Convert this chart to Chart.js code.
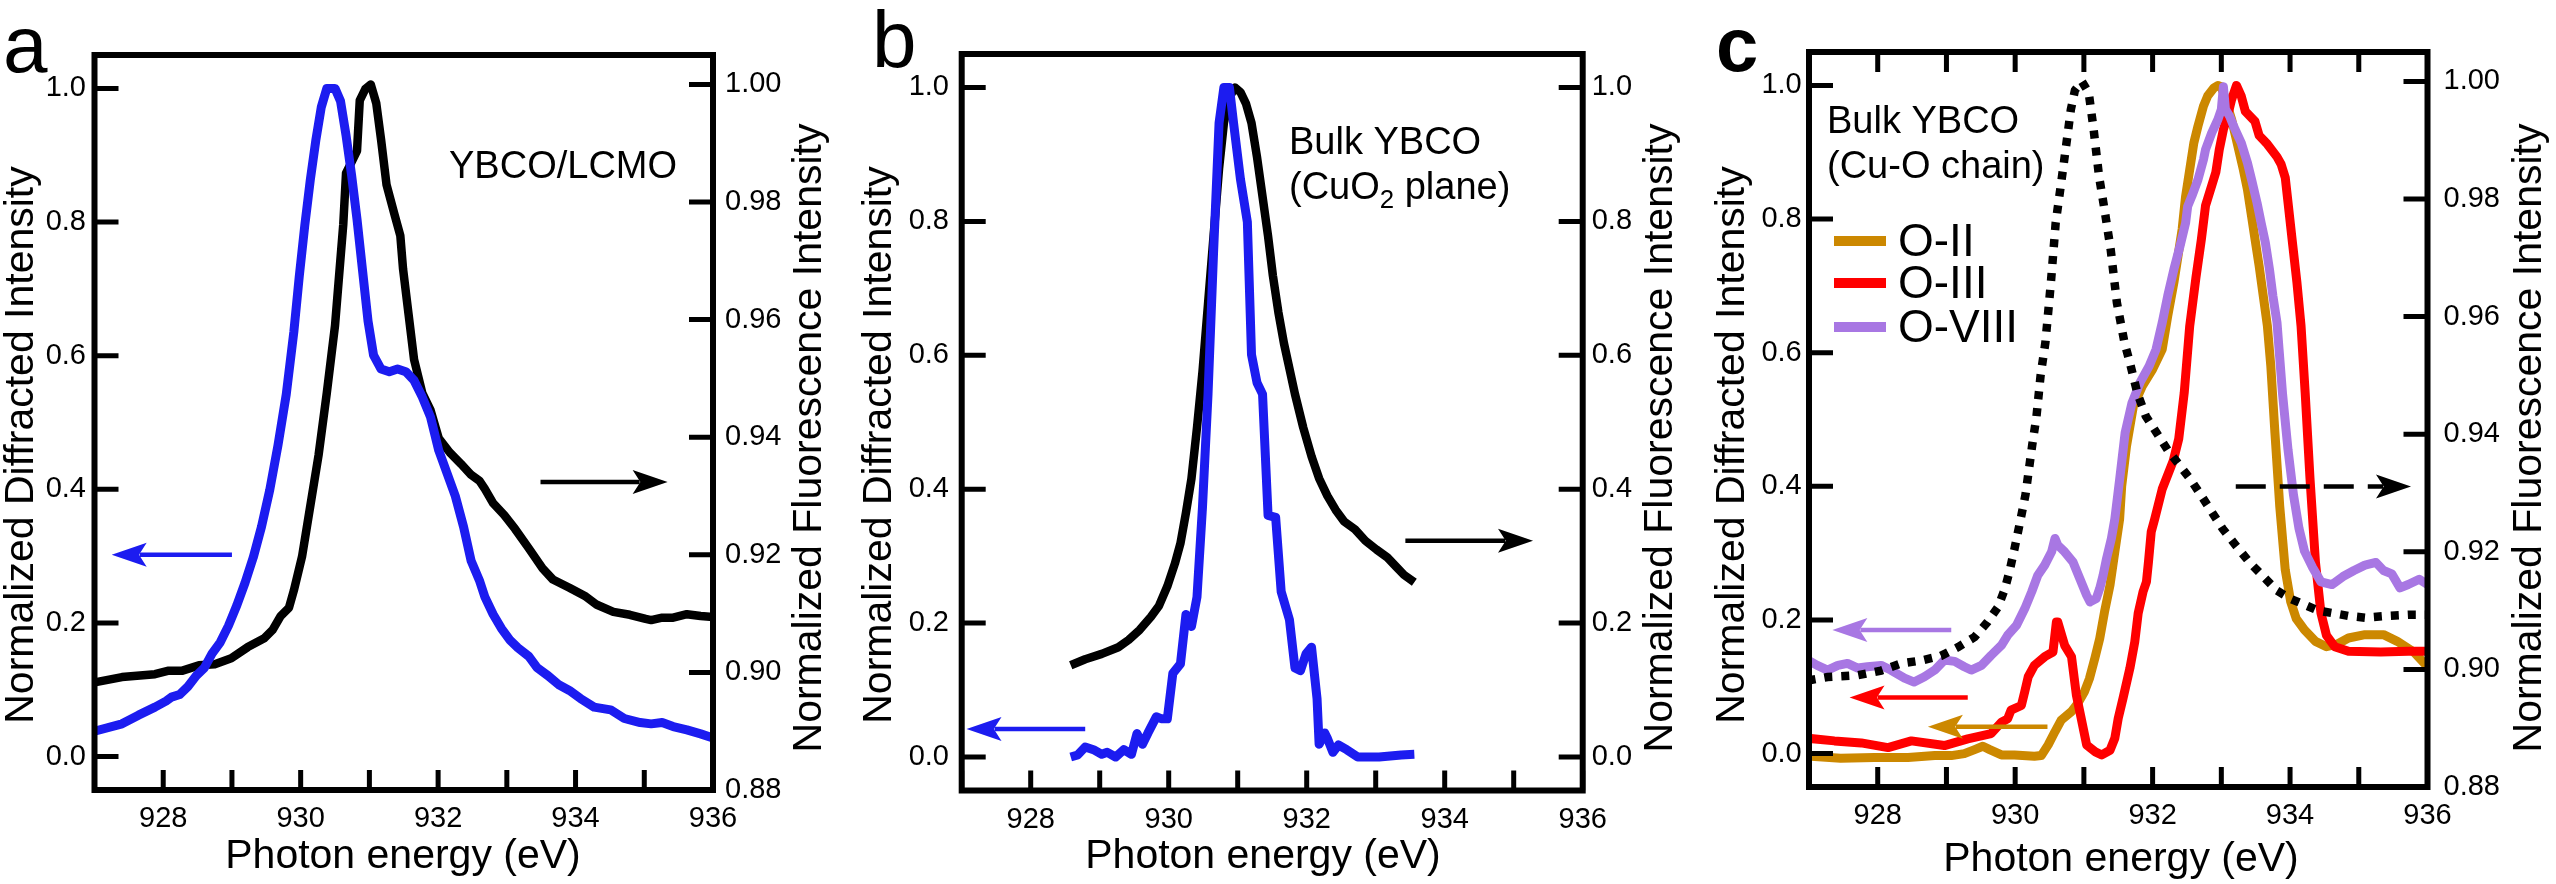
<!DOCTYPE html>
<html>
<head>
<meta charset="utf-8">
<script src="https://cdn.jsdelivr.net/npm/chart.js@4.4.1/dist/chart.umd.min.js"></script>
<style>
html, body { margin: 0; padding: 0; background: #fff; }
body { width: 2556px; height: 884px; position: relative; overflow: hidden; }
canvas { position: absolute; top: 0; }
</style>
</head>
<body>
<canvas id="panel-a" width="850" height="884" style="left:0px"></canvas>
<canvas id="panel-b" width="850" height="884" style="left:850px"></canvas>
<canvas id="panel-c" width="856" height="884" style="left:1700px"></canvas>
<script>
// tick labels
const xTickLabels = ['928', '930', '932', '934', '936'];
const diffTickLabels = ['0.0', '0.2', '0.4', '0.6', '0.8', '1.0'];
const fluoTickLabels = ['0.88', '0.90', '0.92', '0.94', '0.96', '0.98', '1.00'];
const legendLabels = ['O-II', 'O-III', 'O-VIII'];

// panel a: YBCO/LCMO
const aDiffX = [927.00, 927.40, 927.64, 927.88, 928.04, 928.12, 928.24, 928.36, 928.48, 928.60, 928.71, 928.83, 928.95, 929.07, 929.19, 929.31, 929.43, 929.55, 929.67, 929.79, 929.90, 929.98, 930.06, 930.14, 930.22, 930.30, 930.38, 930.50, 930.58, 930.66, 930.74, 930.82, 930.90, 930.98, 931.06, 931.17, 931.29, 931.41, 931.53, 931.65, 931.77, 931.89, 932.01, 932.13, 932.25, 932.37, 932.48, 932.60, 932.68, 932.80, 932.92, 933.04, 933.16, 933.32, 933.44, 933.60, 933.75, 933.91, 934.07, 934.27, 934.51, 934.71, 934.94, 935.10, 935.26, 935.42, 935.62, 935.82, 936.00];
const aDiffY = [0.038, 0.049, 0.062, 0.074, 0.083, 0.089, 0.093, 0.105, 0.121, 0.133, 0.154, 0.171, 0.196, 0.226, 0.260, 0.298, 0.344, 0.399, 0.466, 0.542, 0.635, 0.719, 0.795, 0.863, 0.922, 0.972, 1.000, 1.000, 0.981, 0.930, 0.871, 0.804, 0.728, 0.652, 0.601, 0.580, 0.576, 0.580, 0.576, 0.563, 0.538, 0.508, 0.458, 0.424, 0.390, 0.344, 0.293, 0.264, 0.239, 0.213, 0.192, 0.175, 0.163, 0.150, 0.133, 0.121, 0.108, 0.099, 0.087, 0.074, 0.070, 0.057, 0.051, 0.049, 0.051, 0.045, 0.040, 0.034, 0.028];
const aFluoX = [927.00, 927.40, 927.88, 928.08, 928.28, 928.52, 928.75, 928.99, 929.23, 929.47, 929.59, 929.71, 929.83, 929.90, 930.02, 930.14, 930.26, 930.38, 930.50, 930.62, 930.66, 930.74, 930.82, 930.86, 930.94, 931.02, 931.10, 931.17, 931.25, 931.37, 931.45, 931.49, 931.57, 931.65, 931.77, 931.89, 932.01, 932.17, 932.33, 932.48, 932.60, 932.68, 932.80, 932.96, 933.12, 933.32, 933.52, 933.67, 933.91, 934.15, 934.31, 934.55, 934.79, 935.02, 935.10, 935.26, 935.42, 935.62, 935.82, 936.00];
const aFluoY = [0.8983, 0.8992, 0.8997, 0.9003, 0.9003, 0.9012, 0.9014, 0.9024, 0.9043, 0.9058, 0.9072, 0.9096, 0.9110, 0.9139, 0.9197, 0.9283, 0.9369, 0.9475, 0.9590, 0.9762, 0.9849, 0.9868, 0.9887, 0.9973, 0.9992, 1.0000, 0.9968, 0.9906, 0.9829, 0.9777, 0.9743, 0.9686, 0.9609, 0.9532, 0.9475, 0.9446, 0.9398, 0.9374, 0.9355, 0.9336, 0.9326, 0.9312, 0.9288, 0.9268, 0.9244, 0.9211, 0.9177, 0.9158, 0.9144, 0.9129, 0.9115, 0.9103, 0.9098, 0.9091, 0.9089, 0.9093, 0.9093, 0.9099, 0.9096, 0.9094];

// panel b: bulk YBCO, CuO2 plane
const bDiffX = [928.58, 928.68, 928.79, 928.91, 929.03, 929.11, 929.23, 929.35, 929.46, 929.54, 929.62, 929.70, 929.82, 929.90, 929.98, 930.06, 930.17, 930.25, 930.33, 930.41, 930.49, 930.57, 930.65, 930.73, 930.80, 930.88, 930.94, 931.04, 931.14, 931.20, 931.28, 931.36, 931.44, 931.55, 931.63, 931.75, 931.83, 931.91, 931.99, 932.07, 932.15, 932.18, 932.26, 932.30, 932.38, 932.46, 932.58, 932.74, 933.05, 933.37, 933.56];
const bDiffY = [0.000, 0.003, 0.015, 0.011, 0.004, 0.007, 0.000, 0.011, 0.004, 0.035, 0.019, 0.036, 0.060, 0.057, 0.057, 0.125, 0.139, 0.213, 0.195, 0.239, 0.374, 0.542, 0.753, 0.947, 1.000, 1.000, 0.947, 0.863, 0.799, 0.601, 0.559, 0.542, 0.361, 0.358, 0.247, 0.205, 0.133, 0.129, 0.154, 0.164, 0.087, 0.019, 0.036, 0.028, 0.007, 0.018, 0.011, 0.000, 0.000, 0.003, 0.004];
const bFluoX = [928.58, 928.79, 929.03, 929.27, 929.42, 929.58, 929.74, 929.86, 929.98, 930.09, 930.17, 930.25, 930.33, 930.41, 930.49, 930.57, 930.65, 930.73, 930.80, 930.88, 930.96, 931.04, 931.12, 931.20, 931.28, 931.36, 931.44, 931.51, 931.59, 931.67, 931.75, 931.83, 931.95, 932.07, 932.18, 932.30, 932.42, 932.54, 932.70, 932.85, 933.01, 933.17, 933.29, 933.41, 933.56];
const bFluoY = [0.137, 0.146, 0.154, 0.164, 0.175, 0.190, 0.209, 0.226, 0.255, 0.289, 0.319, 0.365, 0.416, 0.492, 0.576, 0.677, 0.778, 0.879, 0.947, 0.985, 1.000, 0.993, 0.976, 0.947, 0.896, 0.837, 0.778, 0.719, 0.664, 0.618, 0.580, 0.542, 0.492, 0.449, 0.416, 0.390, 0.369, 0.352, 0.340, 0.323, 0.310, 0.298, 0.285, 0.272, 0.261];

// panel c: bulk YBCO, Cu-O chain
const cO2X = [927.03, 927.46, 927.95, 928.44, 928.83, 929.07, 929.26, 929.41, 929.53, 929.63, 929.80, 929.99, 930.28, 930.38, 930.48, 930.58, 930.67, 930.82, 930.91, 931.01, 931.08, 931.16, 931.23, 931.30, 931.38, 931.45, 931.52, 931.55, 931.62, 931.72, 931.85, 932.00, 932.14, 932.22, 932.31, 932.37, 932.43, 932.48, 932.54, 932.60, 932.66, 932.74, 932.80, 932.89, 932.95, 933.00, 933.06, 933.15, 933.23, 933.32, 933.38, 933.44, 933.49, 933.55, 933.61, 933.67, 933.72, 933.78, 933.85, 933.93, 934.01, 934.09, 934.21, 934.37, 934.53, 934.69, 934.85, 935.09, 935.36, 935.56, 935.80, 936.00];
const cO2Y = [-0.004, -0.007, -0.006, -0.006, -0.003, -0.003, 0.000, 0.006, 0.011, 0.006, -0.002, -0.002, -0.004, -0.003, 0.013, 0.033, 0.050, 0.063, 0.075, 0.093, 0.112, 0.143, 0.172, 0.212, 0.252, 0.302, 0.351, 0.400, 0.460, 0.520, 0.550, 0.575, 0.605, 0.655, 0.705, 0.745, 0.785, 0.834, 0.874, 0.914, 0.939, 0.969, 0.984, 0.996, 1.000, 0.998, 0.979, 0.949, 0.914, 0.874, 0.844, 0.804, 0.770, 0.730, 0.685, 0.640, 0.580, 0.480, 0.370, 0.275, 0.227, 0.202, 0.185, 0.168, 0.160, 0.164, 0.173, 0.178, 0.178, 0.168, 0.152, 0.130];
const cO3X = [926.98, 927.37, 927.76, 928.15, 928.49, 928.97, 929.31, 929.65, 929.80, 929.89, 929.94, 930.09, 930.14, 930.19, 930.28, 930.43, 930.55, 930.60, 930.62, 930.72, 930.82, 930.89, 930.96, 931.04, 931.16, 931.26, 931.38, 931.45, 931.50, 931.57, 931.67, 931.74, 931.79, 931.86, 931.91, 931.94, 931.98, 932.03, 932.14, 932.30, 932.38, 932.46, 932.54, 932.63, 932.71, 932.77, 932.86, 932.92, 932.97, 933.03, 933.09, 933.15, 933.22, 933.29, 933.35, 933.49, 933.55, 933.67, 933.81, 933.87, 933.93, 933.97, 934.04, 934.10, 934.16, 934.22, 934.29, 934.37, 934.45, 934.53, 934.65, 934.85, 935.32, 935.72, 936.00];
const cO3Y = [0.023, 0.019, 0.016, 0.009, 0.019, 0.012, 0.022, 0.030, 0.047, 0.052, 0.065, 0.072, 0.093, 0.115, 0.132, 0.145, 0.152, 0.197, 0.197, 0.162, 0.145, 0.088, 0.053, 0.013, 0.003, -0.002, 0.005, 0.023, 0.053, 0.083, 0.128, 0.167, 0.210, 0.242, 0.257, 0.287, 0.332, 0.351, 0.396, 0.438, 0.471, 0.540, 0.640, 0.712, 0.770, 0.820, 0.850, 0.870, 0.904, 0.934, 0.954, 0.979, 1.000, 0.984, 0.961, 0.946, 0.925, 0.912, 0.893, 0.882, 0.862, 0.825, 0.760, 0.705, 0.640, 0.540, 0.412, 0.286, 0.210, 0.177, 0.160, 0.153, 0.152, 0.153, 0.153];
const cO8X = [926.98, 927.12, 927.27, 927.42, 927.56, 927.71, 927.85, 928.05, 928.19, 928.39, 928.53, 928.68, 928.83, 928.97, 929.12, 929.26, 929.36, 929.51, 929.65, 929.80, 929.89, 930.02, 930.14, 930.24, 930.33, 930.43, 930.53, 930.58, 930.62, 930.72, 930.84, 930.94, 931.04, 931.09, 931.18, 931.23, 931.28, 931.33, 931.40, 931.45, 931.52, 931.60, 931.70, 931.82, 931.95, 932.05, 932.14, 932.22, 932.31, 932.40, 932.48, 932.51, 932.57, 932.66, 932.74, 932.77, 932.86, 932.95, 933.00, 933.03, 933.06, 933.12, 933.20, 933.29, 933.38, 933.44, 933.52, 933.58, 933.64, 933.70, 933.75, 933.81, 933.84, 933.89, 933.97, 934.05, 934.13, 934.21, 934.33, 934.45, 934.61, 934.77, 934.93, 935.09, 935.25, 935.36, 935.48, 935.60, 935.72, 935.88, 936.00];
const cO8Y = [0.140, 0.132, 0.125, 0.132, 0.135, 0.128, 0.130, 0.132, 0.125, 0.113, 0.107, 0.115, 0.125, 0.140, 0.138, 0.130, 0.125, 0.132, 0.147, 0.162, 0.177, 0.192, 0.217, 0.242, 0.267, 0.282, 0.302, 0.322, 0.312, 0.302, 0.287, 0.262, 0.237, 0.227, 0.232, 0.247, 0.267, 0.292, 0.322, 0.351, 0.410, 0.480, 0.525, 0.556, 0.580, 0.605, 0.645, 0.685, 0.725, 0.760, 0.794, 0.819, 0.834, 0.859, 0.889, 0.904, 0.929, 0.949, 0.964, 0.998, 0.964, 0.954, 0.934, 0.914, 0.884, 0.859, 0.824, 0.794, 0.765, 0.725, 0.685, 0.645, 0.605, 0.539, 0.455, 0.387, 0.337, 0.303, 0.278, 0.257, 0.253, 0.265, 0.274, 0.282, 0.286, 0.274, 0.269, 0.248, 0.253, 0.261, 0.253];
const cFluoX = [926.98, 927.27, 927.71, 928.05, 928.34, 928.63, 928.92, 929.17, 929.41, 929.60, 929.75, 929.85, 929.92, 929.99, 930.07, 930.15, 930.25, 930.31, 930.37, 930.44, 930.52, 930.59, 930.67, 930.76, 930.81, 930.87, 930.97, 931.07, 931.14, 931.22, 931.30, 931.39, 931.48, 931.59, 931.66, 931.78, 931.90, 932.06, 932.22, 932.38, 932.54, 932.70, 932.86, 933.02, 933.21, 933.41, 933.61, 933.81, 934.01, 934.21, 934.41, 934.61, 934.85, 935.09, 935.40, 935.72, 936.00];
const cFluoY = [0.8981, 0.8987, 0.8990, 0.8998, 0.9010, 0.9015, 0.9023, 0.9038, 0.9055, 0.9081, 0.9106, 0.9137, 0.9168, 0.9205, 0.9250, 0.9297, 0.9383, 0.9430, 0.9500, 0.9556, 0.9658, 0.9760, 0.9828, 0.9907, 0.9952, 0.9985, 1.0000, 0.9981, 0.9920, 0.9839, 0.9782, 0.9714, 0.9624, 0.9556, 0.9526, 0.9469, 0.9431, 0.9402, 0.9373, 0.9349, 0.9325, 0.9297, 0.9268, 0.9239, 0.9211, 0.9182, 0.9158, 0.9134, 0.9120, 0.9110, 0.9100, 0.9096, 0.9091, 0.9088, 0.9091, 0.9093, 0.9093];

const FONT = "'Liberation Sans', Arial, Helvetica, sans-serif";
const BLUE = '#1c1cf0';
const GOLD = '#cc8800';
const RED = '#ff0000';
const PURPLE = '#a877e3';

Chart.defaults.font.family = FONT;
Chart.defaults.color = '#000';
Chart.defaults.animation = false;

function zip(xs, ys) {
    return xs.map((x, i) => ({ x: x, y: ys[i] }));
}

function line(xs, ys, color, width, axis, dash) {
    return {
        data: zip(xs, ys),
        showLine: true,
        borderColor: color,
        borderWidth: width,
        borderDash: dash || [],
        borderJoinStyle: dash ? 'miter' : 'round',
        borderCapStyle: 'butt',
        pointRadius: 0,
        tension: 0,
        yAxisID: axis,
    };
}

function axisX(height) {
    return {
        type: 'linear', min: 927, max: 936,
        grid: { display: false, drawTicks: false },
        border: { display: false },
        ticks: {
            stepSize: 1, autoSkip: false, maxRotation: 0, padding: 12,
            font: { size: 29 },
            callback: v => xTickLabels.includes(String(v)) ? String(v) : '',
        },
        afterFit: s => { s.height = height; },
    };
}

function axisY(pos, min, max, step, labels, digits, width, pad) {
    return {
        type: 'linear', position: pos, min: min, max: max,
        grid: { display: false, drawTicks: false },
        border: { display: false },
        ticks: {
            stepSize: step, includeBounds: false, padding: pad,
            font: { size: 29 },
            callback: v => {
                const s = Math.abs(v).toFixed(digits);
                return labels.includes(s) ? s : '';
            },
        },
        afterFit: s => { s.width = width; },
    };
}

function drawArrow(chart, ar) {
    const ctx = chart.ctx;
    const x1 = chart.scales.x.getPixelForValue(ar.from);
    const x2 = chart.scales.x.getPixelForValue(ar.to);
    const y = chart.scales[ar.axis].getPixelForValue(ar.y);
    const dir = Math.sign(x2 - x1);
    const L = 35, H = 12;
    ctx.save();
    ctx.strokeStyle = ar.color;
    ctx.fillStyle = ar.color;
    ctx.lineWidth = 4.5;
    ctx.setLineDash(ar.dash || []);
    ctx.beginPath();
    ctx.moveTo(x1, y);
    ctx.lineTo(x2 - dir * L * 0.8, y);
    ctx.stroke();
    ctx.setLineDash([]);
    ctx.beginPath();
    ctx.moveTo(x2, y);
    ctx.lineTo(x2 - dir * L, y - H);
    ctx.lineTo(x2 - dir * L * 0.78, y);
    ctx.lineTo(x2 - dir * L, y + H);
    ctx.closePath();
    ctx.fill();
    ctx.restore();
}

function drawParts(ctx, parts, x, y, size) {
    let cx = x;
    parts.forEach(p => {
        const sz = p.sub ? size * 0.68 : size;
        ctx.font = sz + 'px ' + FONT;
        ctx.fillText(p.t, cx, p.sub ? y + size * 0.3 : y);
        cx += ctx.measureText(p.t).width;
    });
}

const decor = {
    id: 'decor',
    afterDatasetsDraw(chart) {
        const o = chart.options.plugins.decor;
        (o.arrows || []).forEach(ar => drawArrow(chart, ar));
    },
    afterDraw(chart) {
        const o = chart.options.plugins.decor;
        const ctx = chart.ctx;
        const a = chart.chartArea;
        const sx = chart.scales.x, sy = chart.scales.y, sy2 = chart.scales.y2;
        ctx.save();
        ctx.strokeStyle = '#000';
        ctx.lineWidth = 5;
        ctx.beginPath();
        sx.ticks.forEach(t => {
            const p = sx.getPixelForValue(t.value);
            ctx.moveTo(p, a.bottom); ctx.lineTo(p, a.bottom - 20);
            if (o.topTicks) { ctx.moveTo(p, a.top); ctx.lineTo(p, a.top + 20); }
        });
        sy.ticks.forEach(t => {
            const p = sy.getPixelForValue(t.value);
            ctx.moveTo(a.left, p); ctx.lineTo(a.left + 24, p);
        });
        sy2.ticks.forEach(t => {
            const p = sy2.getPixelForValue(t.value);
            ctx.moveTo(a.right, p); ctx.lineTo(a.right - 24, p);
        });
        ctx.stroke();
        ctx.lineWidth = 6;
        ctx.strokeRect(a.left, a.top, a.right - a.left, a.bottom - a.top);

        ctx.fillStyle = '#000';
        // panel letter
        ctx.textAlign = 'left';
        ctx.textBaseline = 'alphabetic';
        ctx.font = (o.letter.bold ? 'bold ' : '') + o.letter.size + 'px ' + FONT;
        ctx.fillText(o.letter.text, o.letter.x, o.letter.y);

        // axis titles
        ctx.textAlign = 'center';
        ctx.textBaseline = 'middle';
        ctx.font = '41px ' + FONT;
        ctx.fillText('Photon energy (eV)', o.bottomTitle[0], o.bottomTitle[1]);
        [[o.leftTitle, 'Normalized Diffracted Intensity'], [o.rightTitle, 'Normalized Fluorescence Intensity']].forEach(([pos, txt]) => {
            ctx.save();
            ctx.translate(pos[0], pos[1]);
            ctx.rotate(-Math.PI / 2);
            ctx.fillText(txt, 0, 0);
            ctx.restore();
        });

        // notes
        ctx.textAlign = 'left';
        (o.notes || []).forEach(n => drawParts(ctx, n.parts, n.x, n.y, 38));

        // legend
        if (o.legend) {
            const lg = o.legend;
            lg.datasets.forEach((di, i) => {
                const ds = chart.data.datasets[di];
                ctx.strokeStyle = ds.borderColor;
                ctx.lineWidth = 10;
                ctx.beginPath();
                ctx.moveTo(lg.x1, lg.ys[i]);
                ctx.lineTo(lg.x2, lg.ys[i]);
                ctx.stroke();
                ctx.font = lg.size + 'px ' + FONT;
                ctx.fillText(legendLabels[i], lg.tx, lg.ys[i] + 2);
            });
        }
        ctx.restore();
    },
};

function makeChart(id, datasets, scales, top, decorOpts) {
    return new Chart(document.getElementById(id), {
        type: 'scatter',
        data: { datasets: datasets },
        options: {
            responsive: false,
            animation: false,
            events: [],
            layout: { padding: { top: top, left: 0, right: 0, bottom: 0 } },
            scales: scales,
            plugins: {
                legend: { display: false },
                tooltip: { enabled: false },
                decor: decorOpts,
            },
        },
        plugins: [decor],
    });
}

window.onload = () => {
    makeChart('panel-a', [
        line(aDiffX, aDiffY, BLUE, 9, 'y'),
        line(aFluoX, aFluoY, '#000', 8.5, 'y2'),
    ], {
        x: axisX(94),
        y: axisY('left', -0.05, 1.05, 0.2, diffTickLabels, 1, 94.5, 8.5),
        y2: axisY('right', 0.88, 1.005, 0.02, fluoTickLabels, 2, 137, 12),
    }, 55, {
        letter: { text: 'a', x: 3, y: 72, size: 80 },
        leftTitle: [22, 445], rightTitle: [810, 438], bottomTitle: [403, 857],
        notes: [{ parts: [{ t: 'YBCO/LCMO' }], x: 449, y: 168 }],
        arrows: [
            { from: 929.0, to: 927.25, y: 0.302, axis: 'y', color: BLUE },
            { from: 933.49, to: 935.34, y: 0.9324, axis: 'y2', color: '#000' },
        ],
    });

    makeChart('panel-b', [
        line(bDiffX, bDiffY, BLUE, 9, 'y'),
        line(bFluoX, bFluoY, '#000', 8.5, 'y2'),
    ], {
        x: axisX(93.5),
        y: axisY('left', -0.05, 1.05, 0.2, diffTickLabels, 1, 111.7, 12.7),
        y2: axisY('right', -0.05, 1.05, 0.2, diffTickLabels, 1, 117.3, 9),
    }, 54, {
        letter: { text: 'b', x: 22, y: 66.5, size: 80 },
        leftTitle: [30, 445], rightTitle: [811, 438], bottomTitle: [413, 857],
        notes: [
            { parts: [{ t: 'Bulk YBCO' }], x: 439, y: 144 },
            { parts: [{ t: '(CuO' }, { t: '2', sub: true }, { t: ' plane)' }], x: 439, y: 189 },
        ],
        arrows: [
            { from: 928.79, to: 927.07, y: 0.042, axis: 'y', color: BLUE },
            { from: 933.43, to: 935.28, y: 0.323, axis: 'y2', color: '#000' },
        ],
    });

    makeChart('panel-c', [
        line(cFluoX, cFluoY, '#000', 8.5, 'y2', [8, 9]),
        line(cO8X, cO8Y, PURPLE, 9, 'y'),
        line(cO3X, cO3Y, RED, 9, 'y'),
        line(cO2X, cO2Y, GOLD, 9, 'y'),
    ], {
        x: axisX(97),
        y: axisY('left', -0.05, 1.05, 0.2, diffTickLabels, 1, 109, 7.3),
        y2: axisY('right', 0.88, 1.005, 0.02, fluoTickLabels, 2, 128.5, 16),
    }, 52, {
        topTicks: true,
        letter: { text: 'c', x: 16, y: 70.5, size: 76, bold: true },
        leftTitle: [33, 445], rightTitle: [830, 438], bottomTitle: [421, 860],
        notes: [
            { parts: [{ t: 'Bulk YBCO' }], x: 127, y: 123 },
            { parts: [{ t: '(Cu-O chain)' }], x: 127, y: 168 },
        ],
        legend: { datasets: [3, 2, 1], x1: 134, x2: 186, tx: 198, ys: [241, 283, 327], size: 46 },
        arrows: [
            { from: 929.07, to: 927.34, y: 0.185, axis: 'y', color: PURPLE },
            { from: 929.31, to: 927.59, y: 0.084, axis: 'y', color: RED },
            { from: 930.47, to: 928.73, y: 0.040, axis: 'y', color: GOLD },
            { from: 933.21, to: 935.76, y: 0.9311, axis: 'y2', color: '#000', dash: [30, 14] },
        ],
    });
};
</script>
</body>
</html>
